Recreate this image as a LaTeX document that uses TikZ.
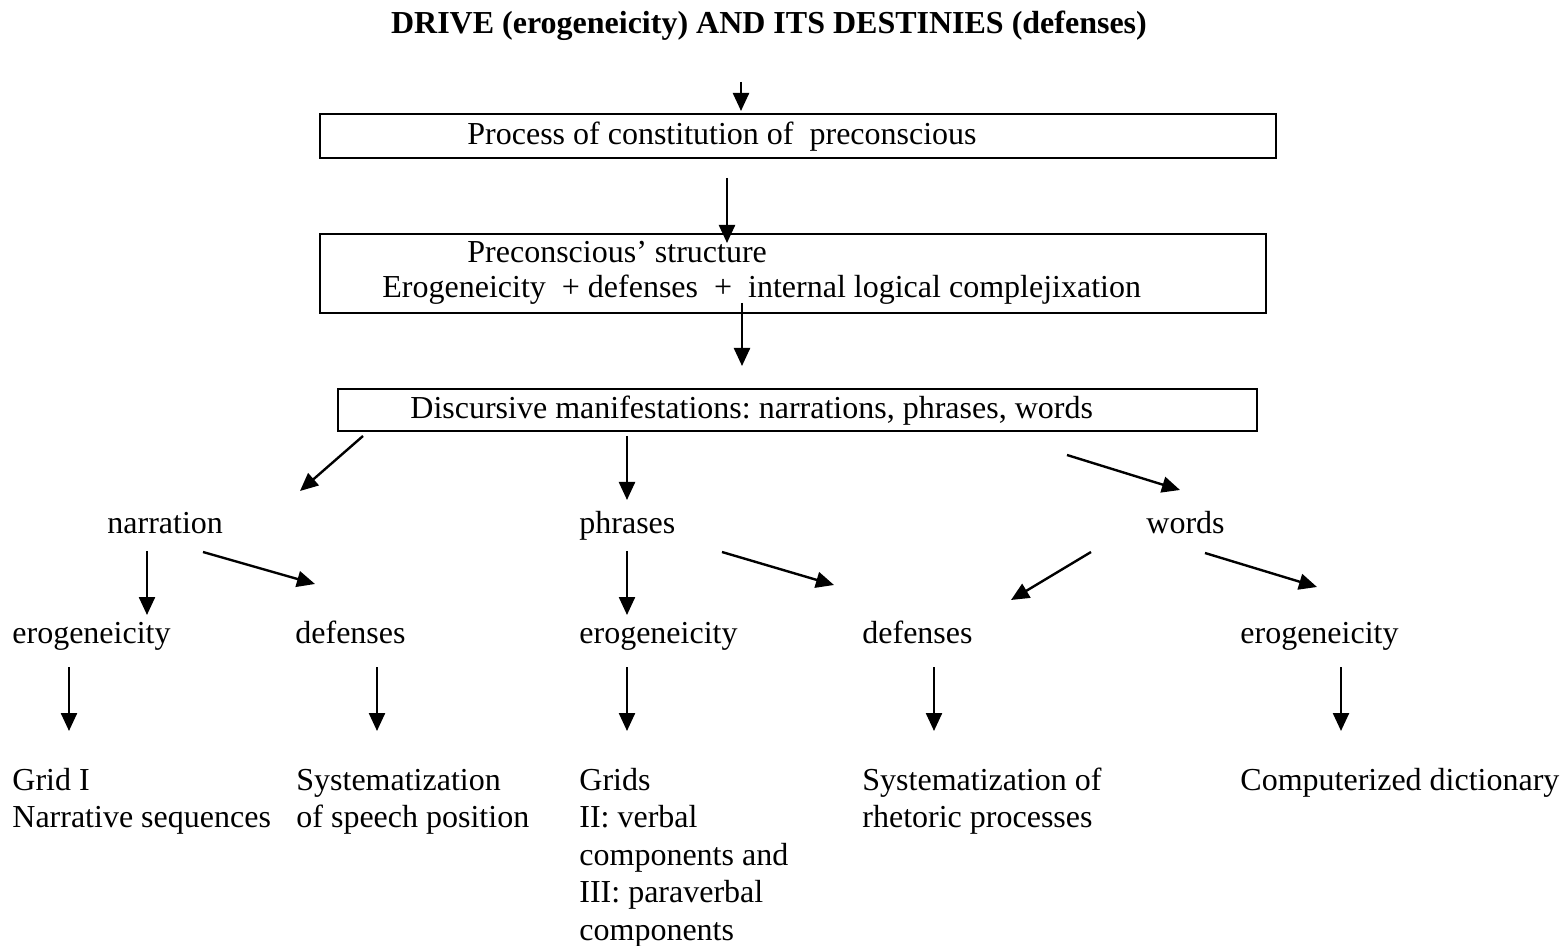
\documentclass[tikz,border=0pt]{standalone}
\usepackage{fontspec}
\setmainfont{Liberation Serif}
\usetikzlibrary{arrows.meta}
\frenchspacing
\tikzset{
  txt/.style={anchor=base west, inner sep=0pt, font=\fontsize{16}{18.75}\selectfont, align=left},
  titletxt/.style={anchor=base, inner sep=0pt, font=\fontsize{16}{18.75}\selectfont\bfseries},
  boxnode/.style={draw, line width=1pt, anchor=north west, inner sep=0pt},
  arr/.style={line width=1.2pt, -{Triangle[length=9pt,width=8pt]}}
}
\begin{document}
\begin{tikzpicture}[x=0.5pt,y=-0.5pt]
\useasboundingbox (0,0) rectangle (1564,946);
% boxes
\node[boxnode, minimum width=478pt, minimum height=22pt] (box1) at (319,113) {};
\node[boxnode, minimum width=473pt, minimum height=39.5pt] (box2) at (319,233) {};
\node[boxnode, minimum width=459.5pt, minimum height=21pt] (box3) at (337,388) {};
% texts
\node[titletxt] (title) at (769,34) {DRIVE (erogeneicity) AND ITS DESTINIES (defenses)};
\node[txt] (t1) at (467,145) {Process of constitution of\ \ preconscious};
\node[txt] (t2a) at (467,263) {Preconscious’ structure};
\node[txt] (t2b) at (382,298) {Erogeneicity\ \ + defenses\ \ +\ \ internal logical complejixation};
\node[txt] (t3) at (410,419) {Discursive manifestations: narrations, phrases, words};
\node[txt] (narr) at (107,533) {narration};
\node[txt] (phr) at (579,533) {phrases};
\node[txt] (wrd) at (1146,533) {words};
\node[txt] (ero1) at (12,643) {erogeneicity};
\node[txt] (def1) at (295,643) {defenses};
\node[txt] (ero2) at (579,643) {erogeneicity};
\node[txt] (def2) at (862,643) {defenses};
\node[txt] (ero3) at (1240,643) {erogeneicity};
% multi-line nodes: base anchor is the baseline of the last line
\node[txt] (r1) at (12,827.5) {Grid I\\Narrative sequences};
\node[txt] (r2) at (296,827.5) {Systematization\\of speech position};
\node[txt] (r3) at (579,940) {Grids\\II: verbal\\components and\\III: paraverbal\\components};
\node[txt] (r4) at (862,827.5) {Systematization of\\rhetoric processes};
\node[txt] (r5) at (1240,790) {Computerized dictionary};
% arrow end points
\coordinate (a1s) at (741,82);   \coordinate (a1e) at (741,111);
\coordinate (a2s) at (727,178);  \coordinate (a2e) at (727,243);
\coordinate (a3s) at (742,303);  \coordinate (a3e) at (742,366);
\coordinate (a4s) at (363,436);  \coordinate (a4e) at (300,491);
\coordinate (a5s) at (627,436);  \coordinate (a5e) at (627,500);
\coordinate (a6s) at (1067,455); \coordinate (a6e) at (1180,490);
\coordinate (a7s) at (147,551);  \coordinate (a7e) at (147,615);
\coordinate (a8s) at (203,552);  \coordinate (a8e) at (315,584);
\coordinate (a9s) at (627,551);  \coordinate (a9e) at (627,615);
\coordinate (a10s) at (722,552); \coordinate (a10e) at (834,585);
\coordinate (a11s) at (1091,552);\coordinate (a11e) at (1011,600);
\coordinate (a12s) at (1205,553);\coordinate (a12e) at (1317,587);
\coordinate (b1s) at (69,667);   \coordinate (b1e) at (69,731);
\coordinate (b2s) at (377,667);  \coordinate (b2e) at (377,731);
\coordinate (b3s) at (627,667);  \coordinate (b3e) at (627,731);
\coordinate (b4s) at (934,667);  \coordinate (b4e) at (934,731);
\coordinate (b5s) at (1341,667); \coordinate (b5e) at (1341,731);
% arrows
\foreach \a in {a1,a2,a3,a4,a5,a6,a7,a8,a9,a10,a11,a12,b1,b2,b3,b4,b5}
  \draw[arr] (\a s) -- (\a e);
\end{tikzpicture}
\end{document}
